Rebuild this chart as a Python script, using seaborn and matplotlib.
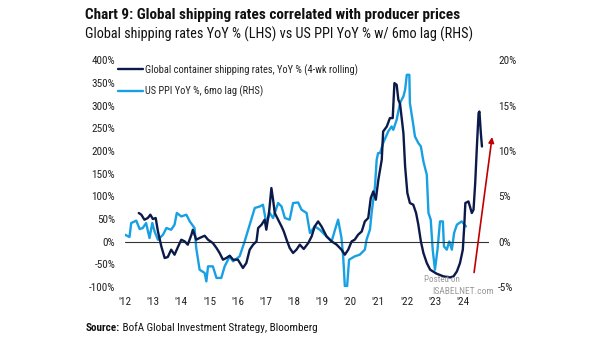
import matplotlib
matplotlib.use("Agg")
import matplotlib.pyplot as plt
import seaborn as sns
import pandas as pd

# ---------------- data ----------------
ship_years = [2012.49, 2012.58, 2012.69, 2012.81, 2012.90, 2012.99, 2013.09, 2013.17, 2013.29, 2013.41,
              2013.52, 2013.64, 2013.76, 2013.88, 2014.00, 2014.12, 2014.23, 2014.36, 2014.41, 2014.53,
              2014.65, 2014.83, 2014.95, 2015.12, 2015.25, 2015.36, 2015.48, 2015.60, 2015.72, 2015.84,
              2016.01, 2016.19, 2016.31, 2016.43, 2016.55, 2016.67, 2016.73, 2016.85, 2016.96, 2017.02,
              2017.12, 2017.20, 2017.26, 2017.32, 2017.44, 2017.56, 2017.64, 2017.74, 2017.85, 2017.97,
              2018.09, 2018.21, 2018.35, 2018.51, 2018.63, 2018.74, 2018.86, 2018.98, 2019.16, 2019.34,
              2019.52, 2019.69, 2019.81, 2019.93, 2020.05, 2020.16, 2020.28, 2020.41, 2020.52, 2020.64,
              2020.73, 2020.82, 2020.91, 2021.00, 2021.12, 2021.17, 2021.30, 2021.41, 2021.51, 2021.57,
              2021.65, 2021.71, 2021.77, 2021.89, 2021.95, 2022.03, 2022.12, 2022.24, 2022.34, 2022.42,
              2022.51, 2022.60, 2022.72, 2022.84, 2023.07, 2023.31, 2023.55, 2023.67, 2023.79, 2023.90,
              2024.00, 2024.05, 2024.09, 2024.20, 2024.32, 2024.38, 2024.44, 2024.50, 2024.56, 2024.59,
              2024.64, 2024.68]
ship_yoy = [63.3, 59.6, 48.5, 52.3, 59.6, 50.1, 52.3, 22.7, -10.4, -36.0,
            -33.8, -17.6, -28.7, -11.7, 4.4, 0.7, -6.6, 15.4, 26.5, 4.4,
            8.2, 13.2, 4.4, -2.9, -13.9, -24.9, -39.7, -36.0, -30.9, -39.7,
            -39.7, -58.0, -47.0, -17.6, -6.6, 0.7, 30.2, 37.5, 48.5, 26.5,
            66.8, 118.5, 92.7, 63.3, 48.5, 33.8, 22.7, 4.4, -13.9, -24.9,
            -17.6, -6.6, -16.1, -2.9, 11.7, 33.8, 44.8, 33.8, 11.7, 0.7,
            -6.6, -17.6, -28.7, -17.6, 0.7, 4.4, 15.4, 22.7, 44.8, 52.3,
            96.4, 111.0, 92.7, 136.8, 180.9, 243.3, 254.4, 272.9, 272.9, 350.1,
            346.4, 313.3, 304.4, 239.8, 166.1, 107.4, 85.4, 81.6, 63.3, 37.5,
            0.7, -24.9, -47.0, -61.8, -70.6, -76.5, -78.8, -76.5, -65.5, -47.0,
            -17.6, 33.8, 85.4, 88.9, 63.3, 70.6, 129.5, 210.2, 283.9, 287.4,
            239.8, 210.2]

ppi_years = [2012.00, 2012.16, 2012.22, 2012.40, 2012.52, 2012.63, 2012.75, 2012.87, 2012.97, 2013.05,
             2013.17, 2013.35, 2013.47, 2013.64, 2013.76, 2013.84, 2014.00, 2014.18, 2014.30, 2014.47,
             2014.53, 2014.65, 2014.83, 2014.89, 2014.95, 2015.12, 2015.25, 2015.42, 2015.54, 2015.72,
             2015.84, 2016.07, 2016.25, 2016.43, 2016.61, 2016.79, 2016.90, 2017.02, 2017.14, 2017.26,
             2017.44, 2017.56, 2017.68, 2017.85, 2017.97, 2018.15, 2018.27, 2018.45, 2018.57, 2018.74,
             2018.92, 2019.16, 2019.34, 2019.46, 2019.57, 2019.69, 2019.75, 2019.81, 2019.89, 2019.96,
             2020.16, 2020.34, 2020.52, 2020.58, 2020.70, 2020.76, 2020.88, 2020.94, 2020.99, 2021.06,
             2021.17, 2021.35, 2021.47, 2021.53, 2021.65, 2021.77, 2021.89, 2021.95, 2022.01, 2022.10,
             2022.12, 2022.24, 2022.30, 2022.42, 2022.51, 2022.60, 2022.72, 2022.78, 2022.86, 2022.93,
             2023.01, 2023.10, 2023.19, 2023.29, 2023.33, 2023.43, 2023.52, 2023.61, 2023.69, 2023.79,
             2023.96, 2024.11]
ppi_yoy = [0.77, 0.52, 2.06, 2.32, 1.40, 1.51, 2.06, 0.41, 2.06, 1.14,
           0.22, 0.77, 1.51, 1.32, 1.88, 3.17, 2.79, 2.98, 2.24, 1.51,
           -0.69, -3.09, -3.45, -4.38, -2.72, -2.72, -4.00, -4.00, -2.72, -1.62,
           -2.17, -1.62, 0.03, 1.88, 3.72, 3.89, 4.08, 2.06, 3.17, 2.61,
           4.27, 3.89, 2.61, 2.43, 4.27, 4.33, 3.53, 3.17, 0.96, 1.69,
           1.32, 0.58, 0.03, 1.32, 2.43, 0.41, -1.62, -4.93, -4.93, -1.99,
           -1.62, -1.43, -0.88, 0.22, 1.32, 3.17, 6.10, 9.04, 9.78, 9.78,
           10.89, 12.17, 12.72, 12.35, 13.46, 15.33, 16.03, 16.77, 18.42, 18.42,
           15.30, 12.91, 11.61, 10.89, 10.51, 8.86, 7.39, 3.17, 2.43, -0.88,
           -3.09, -0.88, 2.24, 2.24, -0.52, -0.88, 0.03, -0.88, 0.96, 1.88,
           2.24, 1.69]

year_ticks = list(range(2012, 2025))
year_labels = ["'" + str(y)[2:] for y in year_ticks]
left_ticks = [-100, -50, 0, 50, 100, 150, 200, 250, 300, 350, 400]
right_ticks = [-5, 0, 5, 10, 15, 20]

ship_label = "Global container shipping rates, YoY % (4-wk rolling)"
ppi_label = "US PPI YoY %, 6mo lag (RHS)"

# ---------------- styling ----------------
sns.set_theme(style="white")
plt.rcParams['font.family'] = ['Liberation Sans Narrow', 'Roboto Condensed', 'DejaVu Sans']
plt.rcParams['font.stretch'] = 'condensed'

W, H = 605, 341
DARK = "#0b1a4a"
LIGHT = "#17a0e3"
TXT = "#222222"

fig = plt.figure(figsize=(W / 100, H / 100), dpi=100)
ax = fig.add_axes([125 / W, 1 - 287 / H, (489 - 125) / W, (287 - 60.5) / H])
ax2 = ax.twinx()

ship_df = pd.DataFrame({"year": ship_years, "yoy": ship_yoy})
ppi_df = pd.DataFrame({"year": ppi_years, "yoy": ppi_yoy})

sns.lineplot(data=ppi_df, x="year", y="yoy", ax=ax2, color=LIGHT, lw=1.7,
             label=ppi_label, legend=False)
sns.lineplot(data=ship_df, x="year", y="yoy", ax=ax, color=DARK, lw=1.7,
             label=ship_label, legend=False)
ax.axhline(0, color="#333333", lw=0.8, zorder=1)

ax.set_zorder(ax2.get_zorder() + 1)
ax.patch.set_visible(False)

ax.set_xlim(2012.0, 2024.93)
ax.set_ylim(-100, 400)
ax2.set_ylim(-5, 20)

ax.set_xticks(year_ticks)
ax.set_xticklabels(year_labels)
ax.set_yticks(left_ticks)
ax.set_yticklabels([f"{v}%" for v in left_ticks])
ax2.set_yticks(right_ticks)
ax2.set_yticklabels([f"{v}%" for v in right_ticks])

for a in (ax, ax2):
    a.set_xlabel("")
    a.set_ylabel("")
    for s in a.spines.values():
        s.set_visible(False)
    a.grid(False)
ax.tick_params(axis="y", length=0, pad=7, labelsize=8, labelcolor=TXT)
ax.tick_params(axis="x", length=0, pad=7, labelsize=8, labelcolor=TXT)
ax2.tick_params(axis="y", length=0, pad=6.5, labelsize=8, labelcolor=TXT)

# red arrow
ax.annotate("", xy=(2025.04, 231), xytext=(2024.40, -68),
            arrowprops=dict(arrowstyle="-|>", color="#c00000", lw=1.2,
                            mutation_scale=8, shrinkA=0, shrinkB=0),
            annotation_clip=False, zorder=5)

# legend
h1, l1 = ax.get_legend_handles_labels()
h2, l2 = ax2.get_legend_handles_labels()
leg = ax.legend(h1 + h2, l1 + l2, loc="upper left",
                bbox_to_anchor=(118 / W, 1 - 64 / H), bbox_transform=fig.transFigure,
                frameon=False, fontsize=7.5, handlelength=2.4, handletextpad=0.2,
                labelspacing=1.0, borderpad=0, borderaxespad=0)
for t in leg.get_texts():
    t.set_color(TXT)

# titles
def fx(x):
    return x / W

def fy(y):
    return 1 - y / H

fig.text(fx(85), fy(15), "Chart 9: Global shipping rates correlated with producer prices",
         fontsize=11, fontweight="bold", color="#111111", va="center", ha="left")
fig.text(fx(85), fy(34), "Global shipping rates YoY % (LHS) vs US PPI YoY % w/ 6mo lag (RHS)",
         fontsize=10.3, color="#111111", va="center", ha="left")

src1 = fig.text(fx(86), fy(333), "Source:", fontsize=8, fontweight="bold",
                color="#111111", va="bottom", ha="left")
plt.annotate(" BofA Global Investment Strategy, Bloomberg", xy=(1, 0), xycoords=src1,
             fontsize=8, color="#111111", va="bottom", ha="left")

# watermark
fig.text(fx(424), fy(280), "Posted on", fontsize=6.5, color="#9a9a9a", va="center", ha="left")
fig.text(fx(432), fy(291), "ISABELNET.com", fontsize=6.8, color="#9a9a9a", va="center", ha="left")

fig.savefig("out.png", dpi=100)
